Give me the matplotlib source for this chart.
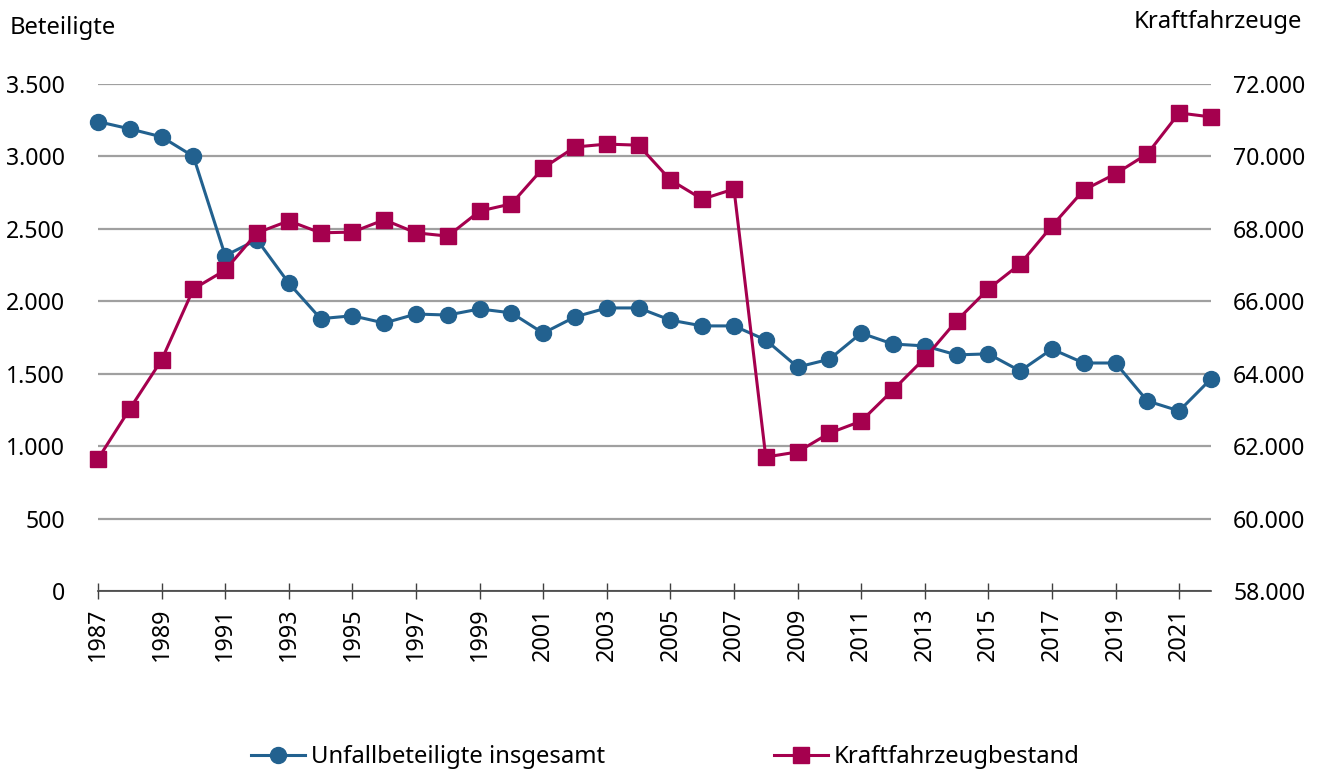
import matplotlib
matplotlib.use("Agg")
import matplotlib.pyplot as plt
from matplotlib.ticker import FuncFormatter, MultipleLocator

plt.rcParams['font.family'] = ['Noto Sans', 'DejaVu Sans']
plt.rcParams['font.size'] = 17.2

years = list(range(1987, 2023))
beteiligte = [3240, 3190, 3135, 3000, 2315, 2425, 2125, 1880, 1900, 1850, 1912, 1905,
              1947, 1920, 1780, 1892, 1954, 1954, 1870, 1830, 1830, 1733, 1546, 1600,
              1780, 1705, 1692, 1630, 1637, 1519, 1670, 1574, 1574, 1312, 1243, 1464]
kfz_bestand = [61650, 63030, 64380, 66340, 66860, 67890, 68220, 67890, 67910, 68250, 67890, 67800,
               68490, 68690, 69680, 70260, 70340, 70310, 69350, 68820, 69100, 61700, 61840, 62360,
               62690, 63550, 64430, 65460, 66340, 67030, 68080, 69070, 69520, 70070, 71200, 71090]

blue = '#22618f'
red = '#a5004e'


def de_fmt(v, pos):
    return f"{int(round(v)):,}".replace(",", ".")


fig = plt.figure(figsize=(13.23, 7.74), dpi=100)
ax = fig.add_axes([0.0741, 0.2364, 0.9153 - 0.0741, 0.8915 - 0.2364])
ax2 = ax.twinx()

ax.set_xlim(1987, 2022)
ax.set_ylim(0, 3500)
ax2.set_ylim(58000, 72000)
ax.yaxis.set_major_locator(MultipleLocator(500))
ax2.yaxis.set_major_locator(MultipleLocator(2000))
ax.yaxis.set_major_formatter(FuncFormatter(de_fmt))
ax2.yaxis.set_major_formatter(FuncFormatter(de_fmt))
ax.set_xticks(list(range(1987, 2023, 2)))

ax.grid(axis='y', color='#a0a0a0', linewidth=1.6)
ax.set_axisbelow(True)
for a in (ax, ax2):
    for s in a.spines.values():
        s.set_visible(False)
ax.spines['bottom'].set_visible(True)
ax.spines['bottom'].set_color('#404040')
ax.spines['bottom'].set_linewidth(1.2)

ax.tick_params(axis='y', length=0, pad=24, labelsize=16.6)
ax2.tick_params(axis='y', length=0, pad=16, labelsize=16.6)
ax.tick_params(axis='x', direction='inout', length=12, width=1, color='#404040',
               labelrotation=90, pad=6, labelsize=16.8)

l1, = ax.plot(years, beteiligte, color=blue, lw=2.2, marker='o', ms=11.5,
              label='Unfallbeteiligte insgesamt', clip_on=False, zorder=3)
l2, = ax2.plot(years, kfz_bestand, color=red, lw=2.2, marker='s', ms=11,
               label='Kraftfahrzeugbestand', clip_on=False, zorder=3)

fig.text(10 / 1323, 1 - 28 / 774, 'Beteiligte', ha='left', va='center')
fig.text(1302 / 1323, 1 - 22 / 774, 'Kraftfahrzeuge', ha='right', va='center')

fig.legend(handles=[l1, l2], loc='center', bbox_to_anchor=(0.503, 0.022), ncol=2,
           frameon=False, handlelength=2.26, handletextpad=0.25, columnspacing=7.05,
           borderpad=0)

fig.savefig('out.png', dpi=100)
